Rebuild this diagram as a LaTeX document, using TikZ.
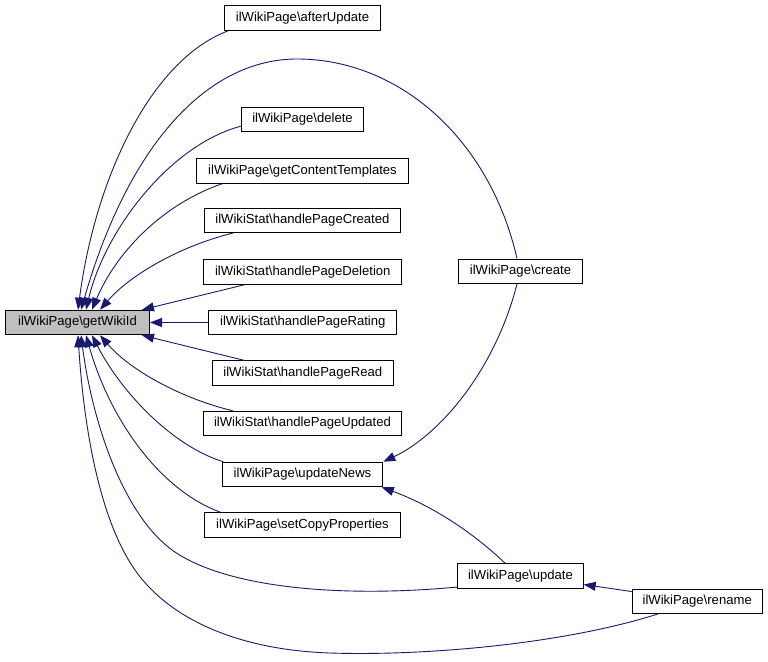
\documentclass[tikz,border=0pt]{standalone}
\usepackage{fontspec}
\setmainfont{Liberation Sans}
\usetikzlibrary{arrows.meta,calc}
\definecolor{edgeblue}{HTML}{191970}
\definecolor{focusgray}{HTML}{BFBFBF}
\begin{document}
\begin{tikzpicture}[x=1pt,y=-1pt,
  fn/.style={draw=black,line width=1pt,fill=white,inner sep=0pt,minimum height=24.5pt,
    font=\fontsize{13.1}{15}\selectfont},
  cg/.style={draw=edgeblue,line width=0.9pt,-{Triangle[length=12pt,width=9pt]}}]
\useasboundingbox[fill=white] (0,0) rectangle (768,661);
% nodes
\node[fn,fill=focusgray,minimum width=144pt] (gwi) at (77.5,322.5) {ilWikiPage\textbackslash getWikiId};
\node[fn,minimum width=155.4pt] (au) at (302.5,18) {ilWikiPage\textbackslash afterUpdate};
\node[fn,minimum width=122.6pt] (del) at (302.5,119.5) {ilWikiPage\textbackslash delete};
\node[fn,minimum width=212.6pt] (gct) at (302.5,170.8) {ilWikiPage\textbackslash getContentTemplates};
\node[fn,minimum width=195.7pt] (hpc) at (302.4,220.3) {ilWikiStat\textbackslash handlePageCreated};
\node[fn,minimum width=198pt] (hpd) at (302.8,271.8) {ilWikiStat\textbackslash handlePageDeletion};
\node[fn,minimum width=188pt] (hpr) at (302.8,322.5) {ilWikiStat\textbackslash handlePageRating};
\node[fn,minimum width=181.3pt] (hprd) at (302.8,373.2) {ilWikiStat\textbackslash handlePageRead};
\node[fn,minimum width=198.6pt] (hpu) at (302.5,423.5) {ilWikiStat\textbackslash handlePageUpdated};
\node[fn,minimum width=160.6pt] (un) at (302.5,474.5) {ilWikiPage\textbackslash updateNews};
\node[fn,minimum width=196pt] (scp) at (302.5,524.8) {ilWikiPage\textbackslash setCopyProperties};
\node[fn,minimum width=123.4pt] (cr) at (520.5,271.3) {ilWikiPage\textbackslash create};
\node[fn,minimum width=125.4pt] (upd) at (520.5,575.8) {ilWikiPage\textbackslash update};
\node[fn,minimum width=130pt] (ren) at (697.2,601.3) {ilWikiPage\textbackslash rename};
% edges into getWikiId (top side)
\draw[cg] ($(au.south west)+(4,0)$) .. controls (150,60) and (95,180) .. ($(gwi.north west)+(73,0)$);
\draw[cg] ($(cr.north)+(-3.5,0)$) .. controls (490,140) and (400,59) .. (297,59)
   .. controls (210,59) and (130,140) .. ($(gwi.north west)+(76,0)$);
\draw[cg] ($(del.south west)+(0,-6)$) .. controls (170,145) and (105,230) .. ($(gwi.north west)+(81,0)$);
\draw[cg] ($(gct.south west)+(27,0)$) .. controls (160,205) and (115,255) .. ($(gwi.north west)+(87,0)$);
\draw[cg] ($(hpc.south west)+(29,0)$) .. controls (180,246) and (130,275) .. ($(gwi.north west)+(95,0)$);
\draw[cg] ($(hpd.south west)+(42,0)$) -- ($(gwi.north west)+(137,0)$);
% middle
\draw[cg] (hpr.west) -- (gwi.east);
% bottom side
\draw[cg] ($(hprd.north west)+(33,0)$) -- ($(gwi.south west)+(137,0)$);
\draw[cg] ($(hpu.north west)+(30,0)$) .. controls (180,398) and (130,370) .. ($(gwi.south west)+(95,0)$);
\draw[cg] ($(un.north west)+(1.5,0)$) .. controls (170,445) and (120,390) .. ($(gwi.south west)+(87,0)$);
\draw[cg] ($(scp.north west)+(16,0)$) .. controls (160,490) and (110,420) .. ($(gwi.south west)+(81,0)$);
\draw[cg] ($(upd.south west)+(0,-1.5)$) .. controls (340,598) and (225,588) .. (172,550)
   .. controls (122,513) and (92,420) .. ($(gwi.south west)+(76,0)$);
\draw[cg] ($(ren.south west)+(26,0)$) .. controls (560,645) and (420,656) .. (330,653)
   .. controls (240,650) and (170,620) .. (135,570)
   .. controls (100,520) and (84,430) .. ($(gwi.south west)+(73,0)$);
% other edges
\draw[cg] ($(cr.south)+(-3.5,0)$) .. controls (495,370) and (440,435) .. (un.north east);
\draw[cg] ($(upd.north)+(-15.5,0)$) .. controls (470,530) and (430,505) .. ($(un.south east)+(-1.5,0)$);
\draw[cg] ($(ren.north west)+(0,3)$) -- ($(upd.south east)+(0,-4)$);
\end{tikzpicture}
\end{document}
